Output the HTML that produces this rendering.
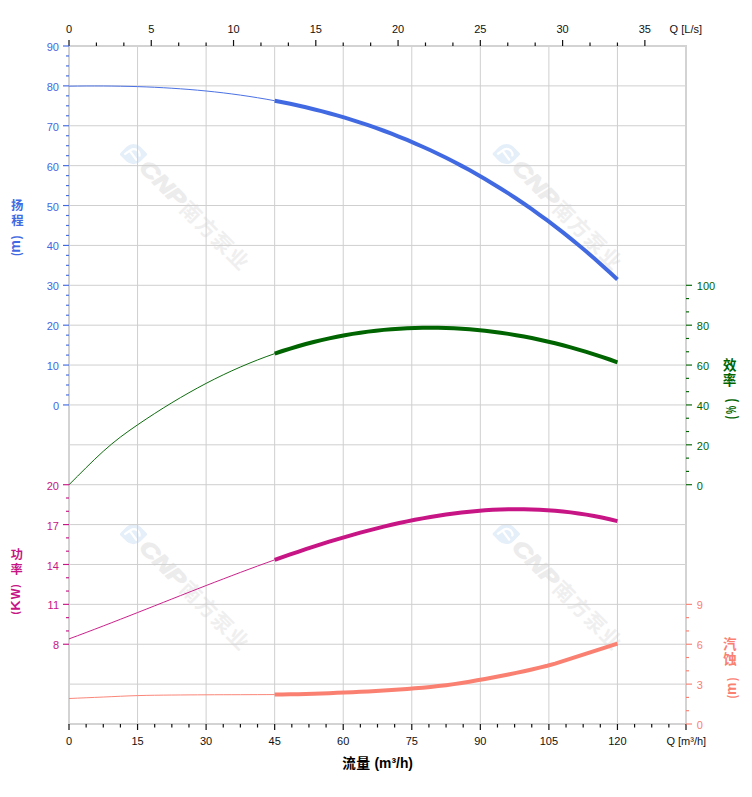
<!DOCTYPE html>
<html lang="zh"><head><meta charset="utf-8"><title>Pump performance curve</title>
<style>html,body{margin:0;padding:0;background:#fff}body{width:752px;height:797px;overflow:hidden;font-family:"Liberation Sans", sans-serif}svg{display:block}</style>
</head><body>
<svg width="752" height="797" viewBox="0 0 752 797">
<rect width="752" height="797" fill="#fff"/>
<g transform="translate(133.5 154.2) rotate(45)">
<path d="M0 -10.1H8.6A1.5 1.5 0 0 1 10.1 -8.6V0A10.1 10.1 0 0 1 0 10.1H-8.6A1.5 1.5 0 0 1 -10.1 8.6V0A10.1 10.1 0 0 1 0 -10.1Z" fill="#e5eff9"/>
<path d="M-6.1 5.7L-4.9 -0.9C-4.2 -4.6 -0.6 -6.2 2.2 -5.3C4 -4.8 5 -4.4 5.3 -3.3M-3.5 0.5L5.9 1.9" fill="none" stroke="#fff" stroke-width="2.3" stroke-linecap="round" stroke-linejoin="round"/>
<text x="13.5" y="6.9" textLength="56" lengthAdjust="spacingAndGlyphs" font-family="'Liberation Sans', sans-serif" font-weight="bold" font-style="italic" font-size="21" fill="#ececec" stroke="#ececec" stroke-width="1.2" stroke-linejoin="round">CNP</text>
<text x="71.3 93.4 115.5 137.6" y="7.53" font-family="'Liberation Sans', 'Noto Sans CJK SC', sans-serif" font-weight="bold" font-size="20.6" fill="#efefef">南方泵业</text>
</g>
<g transform="translate(506.3 154) rotate(45)">
<path d="M0 -10.1H8.6A1.5 1.5 0 0 1 10.1 -8.6V0A10.1 10.1 0 0 1 0 10.1H-8.6A1.5 1.5 0 0 1 -10.1 8.6V0A10.1 10.1 0 0 1 0 -10.1Z" fill="#e5eff9"/>
<path d="M-6.1 5.7L-4.9 -0.9C-4.2 -4.6 -0.6 -6.2 2.2 -5.3C4 -4.8 5 -4.4 5.3 -3.3M-3.5 0.5L5.9 1.9" fill="none" stroke="#fff" stroke-width="2.3" stroke-linecap="round" stroke-linejoin="round"/>
<text x="13.5" y="6.9" textLength="56" lengthAdjust="spacingAndGlyphs" font-family="'Liberation Sans', sans-serif" font-weight="bold" font-style="italic" font-size="21" fill="#ececec" stroke="#ececec" stroke-width="1.2" stroke-linejoin="round">CNP</text>
<text x="71.3 93.4 115.5 137.6" y="7.53" font-family="'Liberation Sans', 'Noto Sans CJK SC', sans-serif" font-weight="bold" font-size="20.6" fill="#efefef">南方泵业</text>
</g>
<g transform="translate(133.5 534.2) rotate(45)">
<path d="M0 -10.1H8.6A1.5 1.5 0 0 1 10.1 -8.6V0A10.1 10.1 0 0 1 0 10.1H-8.6A1.5 1.5 0 0 1 -10.1 8.6V0A10.1 10.1 0 0 1 0 -10.1Z" fill="#e5eff9"/>
<path d="M-6.1 5.7L-4.9 -0.9C-4.2 -4.6 -0.6 -6.2 2.2 -5.3C4 -4.8 5 -4.4 5.3 -3.3M-3.5 0.5L5.9 1.9" fill="none" stroke="#fff" stroke-width="2.3" stroke-linecap="round" stroke-linejoin="round"/>
<text x="13.5" y="6.9" textLength="56" lengthAdjust="spacingAndGlyphs" font-family="'Liberation Sans', sans-serif" font-weight="bold" font-style="italic" font-size="21" fill="#ececec" stroke="#ececec" stroke-width="1.2" stroke-linejoin="round">CNP</text>
<text x="71.3 93.4 115.5 137.6" y="7.53" font-family="'Liberation Sans', 'Noto Sans CJK SC', sans-serif" font-weight="bold" font-size="20.6" fill="#efefef">南方泵业</text>
</g>
<g transform="translate(506.3 534) rotate(45)">
<path d="M0 -10.1H8.6A1.5 1.5 0 0 1 10.1 -8.6V0A10.1 10.1 0 0 1 0 10.1H-8.6A1.5 1.5 0 0 1 -10.1 8.6V0A10.1 10.1 0 0 1 0 -10.1Z" fill="#e5eff9"/>
<path d="M-6.1 5.7L-4.9 -0.9C-4.2 -4.6 -0.6 -6.2 2.2 -5.3C4 -4.8 5 -4.4 5.3 -3.3M-3.5 0.5L5.9 1.9" fill="none" stroke="#fff" stroke-width="2.3" stroke-linecap="round" stroke-linejoin="round"/>
<text x="13.5" y="6.9" textLength="56" lengthAdjust="spacingAndGlyphs" font-family="'Liberation Sans', sans-serif" font-weight="bold" font-style="italic" font-size="21" fill="#ececec" stroke="#ececec" stroke-width="1.2" stroke-linejoin="round">CNP</text>
<text x="71.3 93.4 115.5 137.6" y="7.53" font-family="'Liberation Sans', 'Noto Sans CJK SC', sans-serif" font-weight="bold" font-size="20.6" fill="#efefef">南方泵业</text>
</g>
<g stroke="#cfcfcf" stroke-width="1">
<line x1="137.56" y1="46" x2="137.56" y2="724"/>
<line x1="206.11" y1="46" x2="206.11" y2="724"/>
<line x1="274.67" y1="46" x2="274.67" y2="724"/>
<line x1="343.22" y1="46" x2="343.22" y2="724"/>
<line x1="411.78" y1="46" x2="411.78" y2="724"/>
<line x1="480.33" y1="46" x2="480.33" y2="724"/>
<line x1="548.89" y1="46" x2="548.89" y2="724"/>
<line x1="617.44" y1="46" x2="617.44" y2="724"/>
<line x1="69" y1="85.88" x2="686" y2="85.88"/>
<line x1="69" y1="125.76" x2="686" y2="125.76"/>
<line x1="69" y1="165.65" x2="686" y2="165.65"/>
<line x1="69" y1="205.53" x2="686" y2="205.53"/>
<line x1="69" y1="245.41" x2="686" y2="245.41"/>
<line x1="69" y1="285.29" x2="686" y2="285.29"/>
<line x1="69" y1="325.18" x2="686" y2="325.18"/>
<line x1="69" y1="365.06" x2="686" y2="365.06"/>
<line x1="69" y1="404.94" x2="686" y2="404.94"/>
<line x1="69" y1="444.82" x2="686" y2="444.82"/>
<line x1="69" y1="484.71" x2="686" y2="484.71"/>
<line x1="69" y1="524.59" x2="686" y2="524.59"/>
<line x1="69" y1="564.47" x2="686" y2="564.47"/>
<line x1="69" y1="604.35" x2="686" y2="604.35"/>
<line x1="69" y1="644.24" x2="686" y2="644.24"/>
<line x1="69" y1="684.12" x2="686" y2="684.12"/>
</g>
<rect x="69" y="46" width="617" height="678" fill="none" stroke="#d3d3d3" stroke-width="2"/>
<g stroke="#111" stroke-width="1.2">
<line x1="69" y1="40" x2="69" y2="46"/>
<line x1="96.42" y1="42.5" x2="96.42" y2="46"/>
<line x1="123.84" y1="42.5" x2="123.84" y2="46"/>
<line x1="151.27" y1="40" x2="151.27" y2="46"/>
<line x1="178.69" y1="42.5" x2="178.69" y2="46"/>
<line x1="206.11" y1="42.5" x2="206.11" y2="46"/>
<line x1="233.53" y1="40" x2="233.53" y2="46"/>
<line x1="260.96" y1="42.5" x2="260.96" y2="46"/>
<line x1="288.38" y1="42.5" x2="288.38" y2="46"/>
<line x1="315.8" y1="40" x2="315.8" y2="46"/>
<line x1="343.22" y1="42.5" x2="343.22" y2="46"/>
<line x1="370.64" y1="42.5" x2="370.64" y2="46"/>
<line x1="398.07" y1="40" x2="398.07" y2="46"/>
<line x1="425.49" y1="42.5" x2="425.49" y2="46"/>
<line x1="452.91" y1="42.5" x2="452.91" y2="46"/>
<line x1="480.33" y1="40" x2="480.33" y2="46"/>
<line x1="507.76" y1="42.5" x2="507.76" y2="46"/>
<line x1="535.18" y1="42.5" x2="535.18" y2="46"/>
<line x1="562.6" y1="40" x2="562.6" y2="46"/>
<line x1="590.02" y1="42.5" x2="590.02" y2="46"/>
<line x1="617.44" y1="42.5" x2="617.44" y2="46"/>
<line x1="644.87" y1="40" x2="644.87" y2="46"/>
<line x1="69" y1="724" x2="69" y2="730"/>
<line x1="86.14" y1="724" x2="86.14" y2="727.5"/>
<line x1="103.28" y1="724" x2="103.28" y2="727.5"/>
<line x1="120.42" y1="724" x2="120.42" y2="727.5"/>
<line x1="137.56" y1="724" x2="137.56" y2="730"/>
<line x1="154.69" y1="724" x2="154.69" y2="727.5"/>
<line x1="171.83" y1="724" x2="171.83" y2="727.5"/>
<line x1="188.97" y1="724" x2="188.97" y2="727.5"/>
<line x1="206.11" y1="724" x2="206.11" y2="730"/>
<line x1="223.25" y1="724" x2="223.25" y2="727.5"/>
<line x1="240.39" y1="724" x2="240.39" y2="727.5"/>
<line x1="257.53" y1="724" x2="257.53" y2="727.5"/>
<line x1="274.67" y1="724" x2="274.67" y2="730"/>
<line x1="291.81" y1="724" x2="291.81" y2="727.5"/>
<line x1="308.94" y1="724" x2="308.94" y2="727.5"/>
<line x1="326.08" y1="724" x2="326.08" y2="727.5"/>
<line x1="343.22" y1="724" x2="343.22" y2="730"/>
<line x1="360.36" y1="724" x2="360.36" y2="727.5"/>
<line x1="377.5" y1="724" x2="377.5" y2="727.5"/>
<line x1="394.64" y1="724" x2="394.64" y2="727.5"/>
<line x1="411.78" y1="724" x2="411.78" y2="730"/>
<line x1="428.92" y1="724" x2="428.92" y2="727.5"/>
<line x1="446.06" y1="724" x2="446.06" y2="727.5"/>
<line x1="463.19" y1="724" x2="463.19" y2="727.5"/>
<line x1="480.33" y1="724" x2="480.33" y2="730"/>
<line x1="497.47" y1="724" x2="497.47" y2="727.5"/>
<line x1="514.61" y1="724" x2="514.61" y2="727.5"/>
<line x1="531.75" y1="724" x2="531.75" y2="727.5"/>
<line x1="548.89" y1="724" x2="548.89" y2="730"/>
<line x1="566.03" y1="724" x2="566.03" y2="727.5"/>
<line x1="583.17" y1="724" x2="583.17" y2="727.5"/>
<line x1="600.31" y1="724" x2="600.31" y2="727.5"/>
<line x1="617.44" y1="724" x2="617.44" y2="730"/>
<line x1="634.58" y1="724" x2="634.58" y2="727.5"/>
<line x1="651.72" y1="724" x2="651.72" y2="727.5"/>
<line x1="668.86" y1="724" x2="668.86" y2="727.5"/>
<line x1="686" y1="724" x2="686" y2="730"/>
</g>
<g stroke="#4169e1" stroke-width="1.15">
<line x1="63" y1="46" x2="69" y2="46"/>
<line x1="66" y1="55.97" x2="69" y2="55.97"/>
<line x1="66" y1="65.94" x2="69" y2="65.94"/>
<line x1="66" y1="75.91" x2="69" y2="75.91"/>
<line x1="63" y1="85.88" x2="69" y2="85.88"/>
<line x1="66" y1="95.85" x2="69" y2="95.85"/>
<line x1="66" y1="105.82" x2="69" y2="105.82"/>
<line x1="66" y1="115.79" x2="69" y2="115.79"/>
<line x1="63" y1="125.76" x2="69" y2="125.76"/>
<line x1="66" y1="135.74" x2="69" y2="135.74"/>
<line x1="66" y1="145.71" x2="69" y2="145.71"/>
<line x1="66" y1="155.68" x2="69" y2="155.68"/>
<line x1="63" y1="165.65" x2="69" y2="165.65"/>
<line x1="66" y1="175.62" x2="69" y2="175.62"/>
<line x1="66" y1="185.59" x2="69" y2="185.59"/>
<line x1="66" y1="195.56" x2="69" y2="195.56"/>
<line x1="63" y1="205.53" x2="69" y2="205.53"/>
<line x1="66" y1="215.5" x2="69" y2="215.5"/>
<line x1="66" y1="225.47" x2="69" y2="225.47"/>
<line x1="66" y1="235.44" x2="69" y2="235.44"/>
<line x1="63" y1="245.41" x2="69" y2="245.41"/>
<line x1="66" y1="255.38" x2="69" y2="255.38"/>
<line x1="66" y1="265.35" x2="69" y2="265.35"/>
<line x1="66" y1="275.32" x2="69" y2="275.32"/>
<line x1="63" y1="285.29" x2="69" y2="285.29"/>
<line x1="66" y1="295.26" x2="69" y2="295.26"/>
<line x1="66" y1="305.24" x2="69" y2="305.24"/>
<line x1="66" y1="315.21" x2="69" y2="315.21"/>
<line x1="63" y1="325.18" x2="69" y2="325.18"/>
<line x1="66" y1="335.15" x2="69" y2="335.15"/>
<line x1="66" y1="345.12" x2="69" y2="345.12"/>
<line x1="66" y1="355.09" x2="69" y2="355.09"/>
<line x1="63" y1="365.06" x2="69" y2="365.06"/>
<line x1="66" y1="375.03" x2="69" y2="375.03"/>
<line x1="66" y1="385" x2="69" y2="385"/>
<line x1="66" y1="394.97" x2="69" y2="394.97"/>
<line x1="63" y1="404.94" x2="69" y2="404.94"/>
</g>
<g stroke="#c71585" stroke-width="1.15">
<line x1="63" y1="484.71" x2="69" y2="484.71"/>
<line x1="66" y1="498" x2="69" y2="498"/>
<line x1="66" y1="511.29" x2="69" y2="511.29"/>
<line x1="63" y1="524.59" x2="69" y2="524.59"/>
<line x1="66" y1="537.88" x2="69" y2="537.88"/>
<line x1="66" y1="551.18" x2="69" y2="551.18"/>
<line x1="63" y1="564.47" x2="69" y2="564.47"/>
<line x1="66" y1="577.76" x2="69" y2="577.76"/>
<line x1="66" y1="591.06" x2="69" y2="591.06"/>
<line x1="63" y1="604.35" x2="69" y2="604.35"/>
<line x1="66" y1="617.65" x2="69" y2="617.65"/>
<line x1="66" y1="630.94" x2="69" y2="630.94"/>
<line x1="63" y1="644.24" x2="69" y2="644.24"/>
</g>
<g stroke="#006400" stroke-width="1.15">
<line x1="686" y1="285.29" x2="692" y2="285.29"/>
<line x1="686" y1="298.59" x2="689" y2="298.59"/>
<line x1="686" y1="311.88" x2="689" y2="311.88"/>
<line x1="686" y1="325.18" x2="692" y2="325.18"/>
<line x1="686" y1="338.47" x2="689" y2="338.47"/>
<line x1="686" y1="351.76" x2="689" y2="351.76"/>
<line x1="686" y1="365.06" x2="692" y2="365.06"/>
<line x1="686" y1="378.35" x2="689" y2="378.35"/>
<line x1="686" y1="391.65" x2="689" y2="391.65"/>
<line x1="686" y1="404.94" x2="692" y2="404.94"/>
<line x1="686" y1="418.24" x2="689" y2="418.24"/>
<line x1="686" y1="431.53" x2="689" y2="431.53"/>
<line x1="686" y1="444.82" x2="692" y2="444.82"/>
<line x1="686" y1="458.12" x2="689" y2="458.12"/>
<line x1="686" y1="471.41" x2="689" y2="471.41"/>
<line x1="686" y1="484.71" x2="692" y2="484.71"/>
</g>
<g stroke="#fa8072" stroke-width="1.15">
<line x1="686" y1="604.35" x2="692" y2="604.35"/>
<line x1="686" y1="617.65" x2="689" y2="617.65"/>
<line x1="686" y1="630.94" x2="689" y2="630.94"/>
<line x1="686" y1="644.24" x2="692" y2="644.24"/>
<line x1="686" y1="657.53" x2="689" y2="657.53"/>
<line x1="686" y1="670.82" x2="689" y2="670.82"/>
<line x1="686" y1="684.12" x2="692" y2="684.12"/>
<line x1="686" y1="697.41" x2="689" y2="697.41"/>
<line x1="686" y1="710.71" x2="689" y2="710.71"/>
<line x1="686" y1="724" x2="692" y2="724"/>
</g>
<path d="M69 698.51 L77.57 698.14 L86.14 697.77 L94.71 697.4 L103.28 697.04 L111.85 696.65 L120.42 696.25 L128.99 695.89 L137.56 695.6 L146.12 695.39 L154.69 695.24 L163.26 695.13 L171.83 695.04 L180.4 694.97 L188.97 694.9 L197.54 694.85 L206.11 694.8 L214.68 694.76 L223.25 694.73 L231.82 694.71 L240.39 694.69 L248.96 694.66 L257.53 694.63 L266.1 694.6 L274.67 694.55" fill="none" stroke="#fa8072" stroke-width="0.95"/>
<path d="M274.67 694.55 L282.46 694.47 L290.25 694.34 L298.04 694.16 L305.83 693.94 L313.62 693.69 L321.41 693.42 L329.2 693.14 L336.99 692.84 L344.78 692.54 L352.57 692.22 L360.36 691.85 L368.15 691.45 L375.94 691.02 L383.73 690.55 L391.52 690.05 L399.31 689.51 L407.1 688.95 L414.89 688.35 L422.68 687.67 L430.47 686.91 L438.27 686.06 L446.06 685.14 L453.85 684.12 L461.64 682.94 L469.43 681.66 L477.22 680.32 L485.01 678.95 L492.8 677.52 L500.59 676.02 L508.38 674.47 L516.17 672.85 L523.96 671.2 L531.75 669.48 L539.54 667.67 L547.33 665.72 L555.12 663.57 L562.91 661.2 L570.7 658.69 L578.49 656.15 L586.28 653.66 L594.07 651.16 L601.86 648.64 L609.65 646.1 L617.44 643.54" fill="none" stroke="#fa8072" stroke-width="4" stroke-linecap="butt" stroke-linejoin="round"/>
<path d="M69 638.91 L77.57 635.72 L86.14 632.5 L94.71 629.24 L103.28 625.95 L111.85 622.63 L120.42 619.29 L128.99 615.94 L137.56 612.57 L146.12 609.19 L154.69 605.8 L163.26 602.41 L171.83 599.02 L180.4 595.64 L188.97 592.26 L197.54 588.9 L206.11 585.56 L214.68 582.23 L223.25 578.94 L231.82 575.66 L240.39 572.43 L248.96 569.22 L257.53 566.06 L266.1 562.94 L274.67 559.87" fill="none" stroke="#c71585" stroke-width="0.95"/>
<path d="M274.67 559.87 L282.46 557.13 L290.25 554.43 L298.04 551.78 L305.83 549.18 L313.62 546.63 L321.41 544.14 L329.2 541.71 L336.99 539.35 L344.78 537.05 L352.57 534.82 L360.36 532.67 L368.15 530.59 L375.94 528.58 L383.73 526.66 L391.52 524.82 L399.31 523.07 L407.1 521.4 L414.89 519.83 L422.68 518.36 L430.47 516.98 L438.27 515.71 L446.06 514.54 L453.85 513.48 L461.64 512.52 L469.43 511.68 L477.22 510.96 L485.01 510.35 L492.8 509.87 L500.59 509.51 L508.38 509.28 L516.17 509.18 L523.96 509.21 L531.75 509.38 L539.54 509.69 L547.33 510.15 L555.12 510.74 L562.91 511.49 L570.7 512.38 L578.49 513.43 L586.28 514.64 L594.07 516.01 L601.86 517.54 L609.65 519.23 L617.44 521.1" fill="none" stroke="#c71585" stroke-width="4" stroke-linecap="butt" stroke-linejoin="round"/>
<path d="M69 484.74 L77.57 476.19 L86.14 467.64 L94.71 459.28 L103.28 451.29 L111.85 443.86 L120.42 437.07 L128.99 430.79 L137.56 424.85 L146.12 419.08 L154.69 413.48 L163.26 408.03 L171.83 402.76 L180.4 397.65 L188.97 392.72 L197.54 387.96 L206.11 383.39 L214.68 379 L223.25 374.81 L231.82 370.81 L240.39 367 L248.96 363.38 L257.53 359.95 L266.1 356.7 L274.67 353.64" fill="none" stroke="#006400" stroke-width="0.95"/>
<path d="M274.67 353.64 L282.46 351.01 L290.25 348.54 L298.04 346.21 L305.83 344.02 L313.62 341.98 L321.41 340.09 L329.2 338.33 L336.99 336.71 L344.78 335.24 L352.57 333.9 L360.36 332.69 L368.15 331.62 L375.94 330.68 L383.73 329.88 L391.52 329.2 L399.31 328.65 L407.1 328.23 L414.89 327.93 L422.68 327.75 L430.47 327.7 L438.27 327.78 L446.06 327.97 L453.85 328.29 L461.64 328.73 L469.43 329.29 L477.22 329.97 L485.01 330.77 L492.8 331.69 L500.59 332.73 L508.38 333.89 L516.17 335.16 L523.96 336.56 L531.75 338.07 L539.54 339.69 L547.33 341.44 L555.12 343.3 L562.91 345.27 L570.7 347.36 L578.49 349.57 L586.28 351.88 L594.07 354.31 L601.86 356.86 L609.65 359.51 L617.44 362.28" fill="none" stroke="#006400" stroke-width="4" stroke-linecap="butt" stroke-linejoin="round"/>
<path d="M69 86.16 L77.57 86.05 L86.14 85.98 L94.71 85.96 L103.28 85.98 L111.85 86.06 L120.42 86.19 L128.99 86.37 L137.56 86.61 L146.12 86.92 L154.69 87.28 L163.26 87.72 L171.83 88.22 L180.4 88.8 L188.97 89.45 L197.54 90.18 L206.11 90.99 L214.68 91.89 L223.25 92.87 L231.82 93.94 L240.39 95.1 L248.96 96.36 L257.53 97.72 L266.1 99.17 L274.67 100.73" fill="none" stroke="#4169e1" stroke-width="0.95"/>
<path d="M274.67 100.73 L282.46 102.24 L290.25 103.83 L298.04 105.52 L305.83 107.31 L313.62 109.19 L321.41 111.16 L329.2 113.24 L336.99 115.42 L344.78 117.7 L352.57 120.09 L360.36 122.59 L368.15 125.2 L375.94 127.92 L383.73 130.75 L391.52 133.71 L399.31 136.78 L407.1 139.97 L414.89 143.29 L422.68 146.73 L430.47 150.29 L438.27 153.99 L446.06 157.82 L453.85 161.78 L461.64 165.88 L469.43 170.11 L477.22 174.48 L485.01 179 L492.8 183.66 L500.59 188.47 L508.38 193.42 L516.17 198.52 L523.96 203.78 L531.75 209.19 L539.54 214.76 L547.33 220.48 L555.12 226.37 L562.91 232.42 L570.7 238.63 L578.49 245.01 L586.28 251.56 L594.07 258.28 L601.86 265.18 L609.65 272.24 L617.44 279.49" fill="none" stroke="#4169e1" stroke-width="4" stroke-linecap="butt" stroke-linejoin="round"/>
<g font-family="'Liberation Sans', sans-serif" font-size="11">
<g fill="#111" text-anchor="middle">
<text x="69" y="33">0</text>
<text x="151.27" y="33">5</text>
<text x="233.53" y="33">10</text>
<text x="315.8" y="33">15</text>
<text x="398.07" y="33">20</text>
<text x="480.33" y="33">25</text>
<text x="562.6" y="33">30</text>
<text x="644.87" y="33">35</text>
<text x="69" y="745">0</text>
<text x="137.56" y="745">15</text>
<text x="206.11" y="745">30</text>
<text x="274.67" y="745">45</text>
<text x="343.22" y="745">60</text>
<text x="411.78" y="745">75</text>
<text x="480.33" y="745">90</text>
<text x="548.89" y="745">105</text>
<text x="617.44" y="745">120</text>
</g>
<text x="669.6" y="33" fill="#111">Q [L/s]</text>
<text x="666.4" y="745" fill="#111">Q [m³/h]</text>
<g fill="#4169e1" text-anchor="end">
<text x="59" y="51">90</text>
<text x="59" y="91">80</text>
<text x="59" y="131">70</text>
<text x="59" y="171">60</text>
<text x="59" y="211">50</text>
<text x="59" y="250">40</text>
<text x="59" y="290">30</text>
<text x="59" y="330">20</text>
<text x="59" y="370">10</text>
<text x="59" y="410">0</text>
</g>
<g fill="#c71585" text-anchor="end">
<text x="59" y="490">20</text>
<text x="59" y="530">17</text>
<text x="59" y="570">14</text>
<text x="59" y="609">11</text>
<text x="59" y="649">8</text>
</g>
<g fill="#006400">
<text x="696.8" y="290">100</text>
<text x="696.8" y="330">80</text>
<text x="696.8" y="370">60</text>
<text x="696.8" y="410">40</text>
<text x="696.8" y="450">20</text>
<text x="696.8" y="490">0</text>
</g>
<g fill="#fa8072">
<text x="696.8" y="609">9</text>
<text x="696.8" y="649">6</text>
<text x="696.8" y="689">3</text>
<text x="696.8" y="729">0</text>
</g>
</g>
<text x="11.1" y="209.83" font-family="'Liberation Sans', 'Noto Sans CJK SC', sans-serif" font-weight="bold" font-size="12.4" fill="#4169e1">扬</text>
<text x="11.21" y="224.79" font-family="'Liberation Sans', 'Noto Sans CJK SC', sans-serif" font-weight="bold" font-size="12.4" fill="#4169e1">程</text>
<text transform="translate(20.32 238.91) rotate(-90) scale(0.7972 1.0371)" font-family="'Liberation Sans', sans-serif" font-weight="bold" font-size="12" fill="#4169e1">)</text>
<text transform="translate(20.1 252.84) rotate(-90) scale(1.1823 1.2069)" font-family="'Liberation Sans', sans-serif" font-weight="bold" font-size="12" fill="#4169e1">m</text>
<text transform="translate(20.32 255.86) rotate(-90) scale(0.7677 1.0371)" font-family="'Liberation Sans', sans-serif" font-weight="bold" font-size="12" fill="#4169e1">(</text>
<text x="10.72" y="558.92" font-family="'Liberation Sans', 'Noto Sans CJK SC', sans-serif" font-weight="bold" font-size="12.2" fill="#c71585">功</text>
<text x="10.55" y="573.84" font-family="'Liberation Sans', 'Noto Sans CJK SC', sans-serif" font-weight="bold" font-size="12.2" fill="#c71585">率</text>
<text transform="translate(19.3 587.51) rotate(-90) scale(0.7382 0.9655)" font-family="'Liberation Sans', sans-serif" font-weight="bold" font-size="12" fill="#c71585">)</text>
<text transform="translate(19.6 599.31) rotate(-90) scale(0.9467 0.9932)" font-family="'Liberation Sans', sans-serif" font-weight="bold" font-size="12" fill="#c71585">W</text>
<text transform="translate(19.6 610.67) rotate(-90) scale(1.2126 0.9932)" font-family="'Liberation Sans', sans-serif" font-weight="bold" font-size="12" fill="#c71585">K</text>
<text transform="translate(19.3 614.39) rotate(-90) scale(0.8268 0.9655)" font-family="'Liberation Sans', sans-serif" font-weight="bold" font-size="12" fill="#c71585">(</text>
<text x="723" y="369.64" font-family="'Liberation Sans', 'Noto Sans CJK SC', sans-serif" font-weight="bold" font-size="13.5" fill="#006400">效</text>
<text x="722.67" y="384.58" font-family="'Liberation Sans', 'Noto Sans CJK SC', sans-serif" font-weight="bold" font-size="13.5" fill="#006400">率</text>
<text transform="translate(736.05 401.91) rotate(-90) scale(0.7972 1.1443)" font-family="'Liberation Sans', sans-serif" font-weight="bold" font-size="12" fill="#006400">)</text>
<text transform="translate(736.49 414.03) rotate(-90) scale(0.7658 1.2199)" font-family="'Liberation Sans', sans-serif" font-weight="bold" font-size="12" fill="#006400">%</text>
<text transform="translate(736.05 419.06) rotate(-90) scale(0.7677 1.1443)" font-family="'Liberation Sans', sans-serif" font-weight="bold" font-size="12" fill="#006400">(</text>
<text x="723.09" y="648.66" font-family="'Liberation Sans', 'Noto Sans CJK SC', sans-serif" font-weight="bold" font-size="13.5" fill="#fa8072">汽</text>
<text x="723.27" y="664.06" font-family="'Liberation Sans', 'Noto Sans CJK SC', sans-serif" font-weight="bold" font-size="13.5" fill="#fa8072">蚀</text>
<text transform="translate(735.97 680.71) rotate(-90) scale(0.7382 1.1354)" font-family="'Liberation Sans', sans-serif" font-weight="bold" font-size="12" fill="#fa8072">)</text>
<text transform="translate(736 695.03) rotate(-90) scale(1.1713 1.2688)" font-family="'Liberation Sans', sans-serif" font-weight="bold" font-size="12" fill="#fa8072">m</text>
<text transform="translate(735.97 698.34) rotate(-90) scale(0.7382 1.1354)" font-family="'Liberation Sans', sans-serif" font-weight="bold" font-size="12" fill="#fa8072">(</text>
<text x="342.18" y="768.04" font-family="'Liberation Sans', 'Noto Sans CJK SC', sans-serif" font-weight="bold" font-size="13.5" fill="#000">流</text>
<text x="356.23" y="768.25" font-family="'Liberation Sans', 'Noto Sans CJK SC', sans-serif" font-weight="bold" font-size="13.9" fill="#000">量</text>
<text x="374.5" y="767.6" font-family="'Liberation Sans', sans-serif" font-weight="bold" font-size="13.85" fill="#000">(m³/h)</text>
</svg></body></html>
